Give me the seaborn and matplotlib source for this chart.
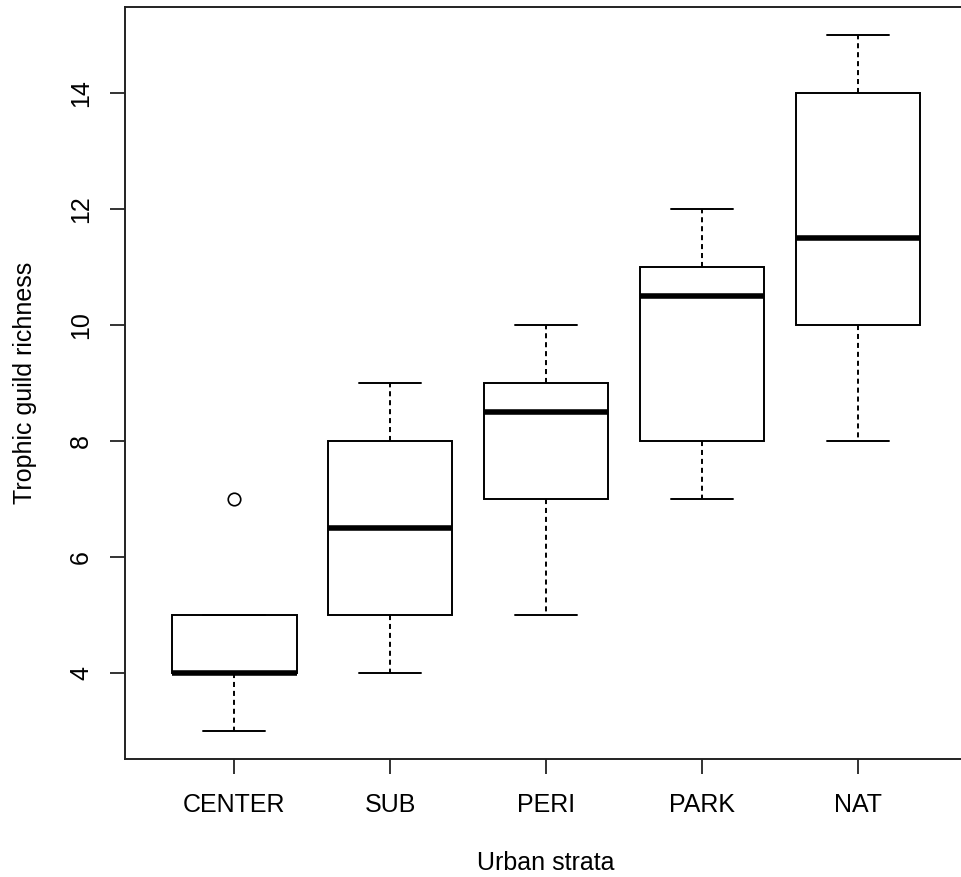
import pandas as pd
import matplotlib
matplotlib.use('Agg')
import matplotlib.pyplot as plt
import seaborn as sns

# trophic guild richness per site
strata = ['CENTER', 'SUB', 'PERI', 'PARK', 'NAT']
center = [3, 4, 4, 4, 4, 4, 5, 5, 5, 7]
sub = [4, 5, 5, 5, 6, 7, 8, 8, 8, 9]
peri = [5, 6, 7, 7, 8, 9, 9, 9, 10, 10]
park = [7, 8, 8, 8, 10, 11, 11, 11, 12, 12]
nat = [8, 9, 10, 10, 11, 12, 14, 14, 15, 15]
yticks = [4, 6, 8, 10, 12, 14]

groups = [center, sub, peri, park, nat]
df = pd.DataFrame({
    'stratum': [s for s, g in zip(strata, groups) for _ in g],
    'richness': [v for g in groups for v in g],
})

sns.set_style('white')
plt.rcParams['font.family'] = ['Liberation Sans', 'DejaVu Sans']
plt.rcParams['text.color'] = 'black'
plt.rcParams['axes.labelcolor'] = 'black'
plt.rcParams['xtick.labelcolor'] = 'black'
plt.rcParams['ytick.labelcolor'] = 'black'

fig = plt.figure(figsize=(9.62, 8.77), dpi=100)
# right edge of the plot box runs past the figure, as in the original
ax = fig.add_axes([0.1299, 0.1351, 0.8755, 0.8569])

sns.boxplot(data=df, x='stratum', y='richness', order=strata, ax=ax,
            width=0.8, color='white', linecolor='black', linewidth=1.4,
            whis=1.5,
            medianprops={'linewidth': 4, 'color': 'black'},
            whiskerprops={'linestyle': (0, (2.6, 2.0)), 'linewidth': 1.4},
            capprops={'linewidth': 1.4},
            flierprops={'marker': 'o', 'markersize': 9, 'markerfacecolor': 'none',
                        'markeredgecolor': 'black', 'markeredgewidth': 1.2})

ax.set_xlim(-0.7, 4.7)
ax.set_ylim(2.52, 15.48)
ax.set_yticks(yticks)
ax.set_yticklabels([str(t) for t in yticks], rotation=90, va='center')

for s in ax.spines.values():
    s.set_color('#222222')
    s.set_linewidth(1.4)

ax.tick_params(axis='both', which='both', direction='out', length=11, width=1.4,
               color='#333333', labelsize=18, labelcolor='black', left=True, bottom=True)
ax.tick_params(axis='y', pad=12)
ax.tick_params(axis='x', pad=14)

ax.set_xlabel('Urban strata', fontsize=18, labelpad=24)
ax.set_ylabel('Trophic guild richness', fontsize=18, labelpad=23)

fig.savefig('out.png', dpi=100)
plt.close(fig)
